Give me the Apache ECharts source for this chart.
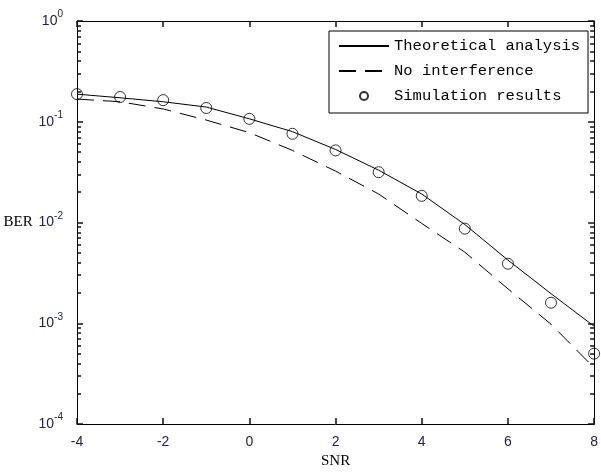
<!DOCTYPE html>
<html>
<head>
<meta charset="utf-8">
<script src="https://cdn.jsdelivr.net/npm/echarts@6/dist/echarts.min.js"></script>
<style>html,body{margin:0;padding:0;background:#fff}#c{width:601px;height:474px}</style>
</head>
<body>
<div id="c"></div>
<script>
const snr = [-4, -3, -2, -1, 0, 1, 2, 3, 4, 5, 6, 7, 8];
const theory = [0.188, 0.173, 0.158, 0.140, 0.107, 0.0798, 0.0531, 0.0331, 0.0192, 0.00955, 0.00424, 0.00197, 0.000935];
const noInterference = [0.168, 0.158, 0.134, 0.104, 0.078, 0.052, 0.0324, 0.0192, 0.0098, 0.00508, 0.0022, 0.00098, 0.000362];
const simulation = [0.188, 0.176, 0.164, 0.137, 0.107, 0.076, 0.052, 0.0316, 0.0184, 0.0087, 0.0039, 0.0016, 0.0005];
const minorTickValues = [];
[1e-4, 1e-3, 1e-2, 1e-1].forEach(d => { for (let k = 2; k <= 9; k++) minorTickValues.push(+(d * k).toPrecision(3)); });

const pairs = ys => snr.map((x, i) => [x, ys[i]]);
const labelColor = '#22224a';

const chart = echarts.init(document.getElementById('c'), null, {renderer: 'canvas'});
const axisLineStyle = {show: true, onZero: false, lineStyle: {color: '#000', width: 1}};
const majorTick = {show: true, inside: true, length: 6, lineStyle: {color: '#111', width: 1.5}};
const minorTick = {show: true, inside: true, length: 4, customValues: minorTickValues, lineStyle: {color: '#111', width: 1.5}};
chart.setOption({
  animation: false,
  backgroundColor: '#fff',
  grid: {left: 77, right: 6, top: 21, bottom: 45, containLabel: false},
  legend: {
    orient: 'vertical', left: 329, top: 31,
    backgroundColor: '#fff', borderColor: '#000', borderWidth: 1, borderRadius: 0,
    padding: [7, 8, 9, 9], itemGap: 9, itemWidth: 50, itemHeight: 8,
    textStyle: {fontFamily: 'Liberation Mono', fontSize: 15.5, color: '#000'},
    data: [
      {name: 'Theoretical analysis', itemStyle: {opacity: 0}},
      {name: 'No interference', itemStyle: {opacity: 0}},
      'Simulation results'
    ]
  },
  xAxis: [{
    type: 'value', min: -4, max: 8, interval: 2,
    axisLine: axisLineStyle,
    axisTick: majorTick,
    axisLabel: {margin: 11, color: labelColor, fontFamily: 'Liberation Sans', fontSize: 14},
    splitLine: {show: false},
    name: 'SNR', nameLocation: 'middle', nameGap: 22,
    nameTextStyle: {fontFamily: 'Liberation Serif', fontSize: 15, color: '#000'}
  }, {
    type: 'value', min: -4, max: 8, interval: 2, position: 'top',
    axisLine: axisLineStyle,
    axisTick: majorTick,
    axisLabel: {show: false}, splitLine: {show: false}
  }],
  yAxis: [{
    type: 'log', logBase: 10, min: 1e-4, max: 1,
    axisLine: axisLineStyle,
    axisTick: majorTick,
    minorTick: {show: false}, splitLine: {show: false},
    axisLabel: {
      margin: 14, color: labelColor,
      formatter: v => '{b|10}{s|' + Math.round(Math.log10(v)) + '}',
      rich: {
        b: {fontFamily: 'Liberation Sans', fontSize: 14, color: labelColor},
        s: {fontFamily: 'Liberation Sans', fontSize: 10, color: labelColor, padding: [0, 0, 13, 0]}
      }
    },
    name: 'BER', nameLocation: 'middle', nameRotate: 0, nameGap: 23,
    nameTextStyle: {fontFamily: 'Liberation Serif', fontSize: 15, color: '#000'}
  }, {
    type: 'log', logBase: 10, min: 1e-4, max: 1, position: 'right',
    axisLine: axisLineStyle,
    axisTick: majorTick,
    axisLabel: {show: false}, splitLine: {show: false}
  }, {
    type: 'log', logBase: 10, min: 1e-4, max: 1, position: 'left',
    axisLine: {show: false, onZero: false},
    axisTick: minorTick,
    axisLabel: {show: false}, splitLine: {show: false}
  }, {
    type: 'log', logBase: 10, min: 1e-4, max: 1, position: 'right',
    axisLine: {show: false, onZero: false},
    axisTick: minorTick,
    axisLabel: {show: false}, splitLine: {show: false}
  }],
  series: [{
    name: 'Theoretical analysis', type: 'line', symbol: 'none',
    lineStyle: {color: '#000', width: 1}, itemStyle: {color: '#000'},
    data: pairs(theory)
  }, {
    name: 'No interference', type: 'line', symbol: 'none',
    lineStyle: {color: '#000', width: 1, type: [17, 9]}, itemStyle: {color: '#000'},
    data: pairs(noInterference)
  }, {
    name: 'Simulation results', type: 'scatter', symbol: 'circle', symbolSize: 11,
    itemStyle: {color: 'rgba(0,0,0,0)', borderColor: '#000', borderWidth: 1},
    data: pairs(simulation)
  }]
});
</script>
</body>
</html>
